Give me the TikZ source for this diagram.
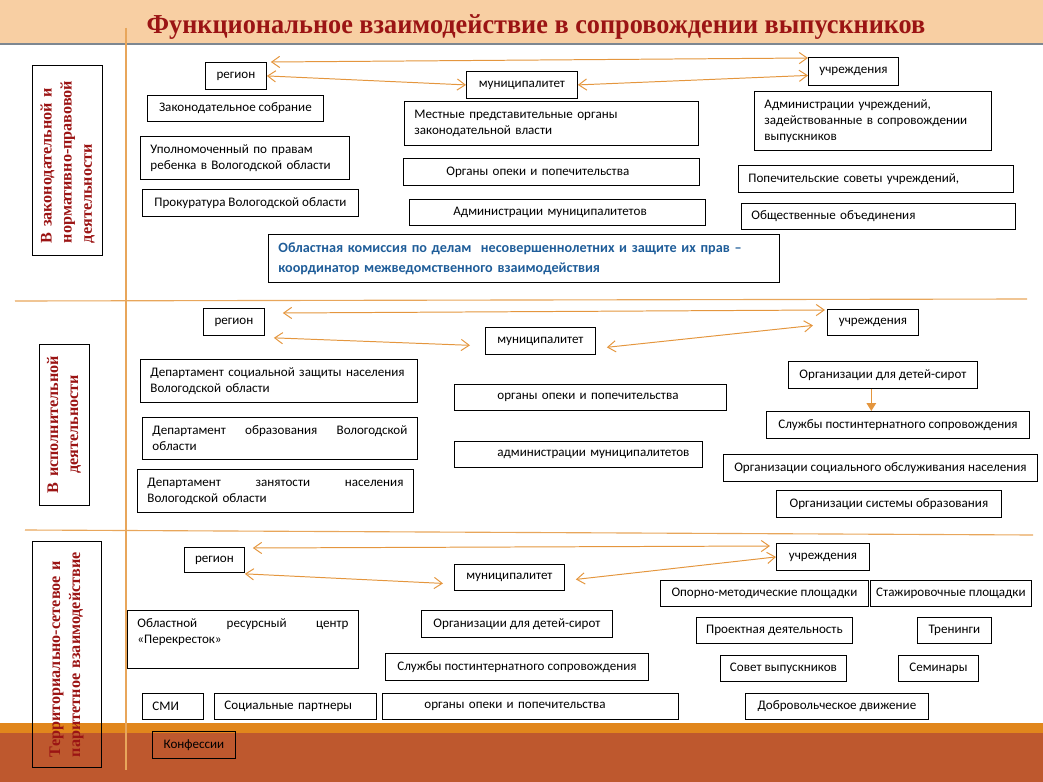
\documentclass[tikz,border=0pt]{standalone}
\usepackage{fontspec}
\setmainfont{Liberation Serif}
\newfontfamily\bodyfont{Carlito}
\usetikzlibrary{arrows.meta}
\definecolor{hdrpeach}{RGB}{248,207,163}
\definecolor{hdrgray}{RGB}{125,135,145}
\definecolor{titred}{RGB}{155,20,20}
\definecolor{linkorange}{RGB}{228,150,62}
\definecolor{bandorange}{RGB}{225,134,28}
\definecolor{bandrust}{RGB}{190,88,46}
\definecolor{kdnblue}{RGB}{31,93,153}
\tikzset{
    box/.style={draw, line width=0.6pt, anchor=north west, inner xsep=1mm, inner ysep=0pt, align=center, font=\bodyfont\fontsize{9.3}{11.4}\selectfont},
    lbox/.style={box, align=left, inner xsep=2.5mm},
    side/.style={draw, line width=0.6pt, rotate=90, inner xsep=3mm, inner ysep=0pt, text=titred, font=\bfseries\fontsize{11.5}{14.3}\selectfont},
    link/.style={{Straight Barb[length=2mm,width=2.8mm]}-{Straight Barb[length=2mm,width=2.8mm]}, draw=linkorange, line width=0.7pt},
    drop/.style={-{Triangle[length=2mm,width=2.4mm]}, draw=linkorange, fill=linkorange, line width=0.9pt},
    sepline/.style={draw=linkorange!85, line width=0.8pt}
}

\begin{document}
\begin{tikzpicture}[x=0.25mm, y=-0.25mm]
  \useasboundingbox (0,0) rectangle (1043,782);

  % header and bottom band
  \fill[hdrpeach] (0,0) rectangle (1043,43);
  \draw[hdrgray, line width=1.2pt] (0,44) -- (1043,44);
  \fill[bandorange] (0,723) rectangle (1043,733);
  \fill[bandrust] (0,733) rectangle (1043,782);
  \node[text=titred, font=\bfseries\fontsize{19.5}{22}\selectfont] (title) at (536,27)
    {\scalebox{0.958}[1]{Функциональное взаимодействие в сопровождении выпускников}};

  % grid lines
  \draw[sepline] (126,28) -- (126,770);
  \draw[sepline] (15,301) -- (1027,299);
  \draw[sepline] (25,530) -- (1033,535);

  % side labels
  \node[side, align=left, text width=41.5mm, minimum height=17.5mm] (lab1) at (67.5,160)
    {В законодательной и\\нормативно-правовой\\деятельности};
  \node[side, align=center, text width=34.25mm, minimum height=12.5mm] (lab2) at (64,424.5)
    {В исполнительной\\деятельности};
  \node[side, align=left, inner xsep=2.5mm, text width=51.5mm, minimum height=17.25mm] (lab3) at (66.5,654)
    {Территориально-сетевое и\\паритетное взаимодействие};

  % legislative level
  \node[box, minimum width=15.25mm, minimum height=6.75mm] (reg1) at (205,62) {регион};
  \node[box, minimum width=27.75mm, minimum height=6.75mm] (mun1) at (466,71) {муниципалитет};
  \node[box, minimum width=22.5mm, minimum height=7mm] (ins1) at (808,57) {учреждения};
  \node[box, minimum width=44mm, minimum height=6.5mm] (law1) at (147,95) {Законодательное собрание};
  \node[lbox, text width=47.25mm, minimum height=10.75mm] (omb1) at (140,136)
    {Уполномоченный по правам\\ребенка в Вологодской области};
  \node[box, minimum width=54mm, minimum height=6.75mm] (pro1) at (142,189) {Прокуратура Вологодской области};
  \node[lbox, text width=68.5mm, minimum height=11mm] (loc1) at (404,101)
    {Местные представительные органы\\законодательной власти};
  \node[lbox, text width=69mm, minimum height=6.75mm] (guard1) at (403,158)
    {\hspace*{8.25mm}Органы опеки и попечительства};
  \node[lbox, text width=69mm, minimum height=6.5mm] (adm1) at (409,199)
    {\hspace*{8.5mm}Администрации муниципалитетов};
  \node[lbox, text width=54.25mm, minimum height=14.75mm] (insadm1) at (754,91)
    {Администрации учреждений,\\задействованные в сопровождении\\выпускников};
  \node[lbox, text width=63.75mm, minimum height=6.75mm] (trust1) at (738,165) {Попечительские советы учреждений,};
  \node[lbox, text width=63.5mm, minimum height=6.5mm] (pub1) at (741,203) {Общественные объединения};
  \node[lbox, text width=122.75mm, minimum height=12mm, text=kdnblue,
        font=\bodyfont\bfseries\fontsize{10.1}{14.2}\selectfont] (kdn) at (268,234)
    {Областная комиссия по делам\ \ несовершеннолетних и защите их прав –\\координатор межведомственного взаимодействия};
  \draw[link] ([xshift=1mm]reg1.north east) -- ([yshift=-0.25mm]ins1.north west);
  \draw[link] (reg1.east) -- (mun1.west);
  \draw[link] (mun1.east) -- ([yshift=-1mm]ins1.west);

  % executive level
  \node[box, minimum width=15.25mm, minimum height=6.75mm] (reg2) at (203,308) {регион};
  \node[box, minimum width=27.5mm, minimum height=6.75mm] (mun2) at (485,327) {муниципалитет};
  \node[box, minimum width=22.75mm, minimum height=6.5mm] (ins2) at (827,309) {учреждения};
  \node[lbox, text width=64.25mm, minimum height=10.75mm] (soc2) at (140,359)
    {Департамент социальной защиты населения\\Вологодской области};
  \node[lbox, text width=63.75mm, minimum height=10.5mm] (edu2) at (142,417)
    {Департамент\hfill образования\hfill Вологодской\\области};
  \node[lbox, text width=64mm, minimum height=10.75mm] (emp2) at (137,469)
    {Департамент\hfill занятости\hfill населения\\Вологодской области};
  \node[lbox, text width=63mm, minimum height=6.5mm] (guard2) at (454,384)
    {\hspace*{8.25mm}органы опеки и попечительства};
  \node[lbox, text width=57mm, minimum height=6.5mm] (adm2) at (454,441)
    {\hspace*{8.25mm}администрации муниципалитетов};
  \node[box, minimum width=47.25mm, minimum height=6.75mm] (orph2) at (788,361) {Организации для детей-сирот};
  \node[box, minimum width=65.75mm, minimum height=6.75mm] (svc2) at (766,411) {Службы постинтернатного сопровождения};
  \node[box, minimum width=78.5mm, minimum height=6.75mm] (socs2) at (723,454) {Организации социального обслуживания населения};
  \node[box, minimum width=56.25mm, minimum height=6.75mm] (edus2) at (776,490) {Организации системы образования};
  \draw[link] ([xshift=4.5mm,yshift=-1.25mm]reg2.north east) -- ([xshift=-0.5mm,yshift=-0.25mm]ins2.north west);
  \draw[link] ([xshift=2.25mm,yshift=-0.5mm]reg2.south east) -- ([xshift=-3.75mm,yshift=-1.1mm]mun2.west);
  \draw[link] ([xshift=2.75mm,yshift=-1.6mm]mun2.east) -- ([xshift=-3.5mm,yshift=-0.75mm]ins2.west);
  \draw[drop] ([xshift=-2.9mm]orph2.south) -- ([xshift=-2.9mm]orph2.south |- svc2.north);

  % network level
  \node[box, minimum width=15mm, minimum height=6.25mm] (reg3) at (184,547) {регион};
  \node[box, minimum width=27.5mm, minimum height=6.5mm] (mun3) at (454,564) {муниципалитет};
  \node[box, minimum width=23.25mm, minimum height=6.75mm] (ins3) at (776,543) {учреждения};
  \node[lbox, text width=52.75mm, minimum height=14.5mm] (perek) at (127,610)
    {Областной\hfill ресурсный\hfill центр\\«Перекресток»\\\mbox{}};
  \node[box, minimum width=47.75mm, minimum height=6.75mm] (orph3) at (421,610) {Организации для детей-сирот};
  \node[box, minimum width=65.75mm, minimum height=6.75mm] (svc3) at (385,653) {Службы постинтернатного сопровождения};
  \node[lbox, text width=69mm, minimum height=6.5mm] (guard3) at (382,693)
    {\hspace*{8mm}органы опеки и попечительства};
  \node[lbox, text width=10.25mm, minimum height=6.5mm] (smi) at (142,693) {СМИ};
  \node[lbox, text width=35.5mm, minimum height=6.5mm] (partn) at (214,693) {Социальные партнеры};
  \node[box, minimum width=20.75mm, minimum height=6.75mm] (conf) at (152,731) {Конфессии};
  \node[box, minimum width=52mm, minimum height=6.5mm] (opor) at (660,580) {Опорно-методические площадки};
  \node[box, minimum width=40.25mm, minimum height=6.5mm] (staj) at (870,580) {Стажировочные площадки};
  \node[box, minimum width=39mm, minimum height=6.5mm] (proj) at (696,617) {Проектная деятельность};
  \node[box, minimum width=18.5mm, minimum height=6.5mm] (train) at (917,617) {Тренинги};
  \node[box, minimum width=31.5mm, minimum height=6.5mm] (grad) at (720,655) {Совет выпускников};
  \node[box, minimum width=20mm, minimum height=6.5mm] (sem) at (898,655) {Семинары};
  \node[box, minimum width=45.75mm, minimum height=6.5mm] (vol) at (745,693) {Добровольческое движение};
  \draw[link] ([xshift=2mm,yshift=-0.25mm]reg3.north east) -- ([xshift=-1.5mm,yshift=-0.75mm]ins3.north west);
  \draw[link] ([yshift=-0.25mm]reg3.south east) -- ([xshift=-2.75mm,yshift=-1.5mm]mun3.west);
  \draw[link] ([xshift=2.75mm,yshift=-0.5mm]mun3.east) -- (ins3.west);
\end{tikzpicture}
\end{document}
